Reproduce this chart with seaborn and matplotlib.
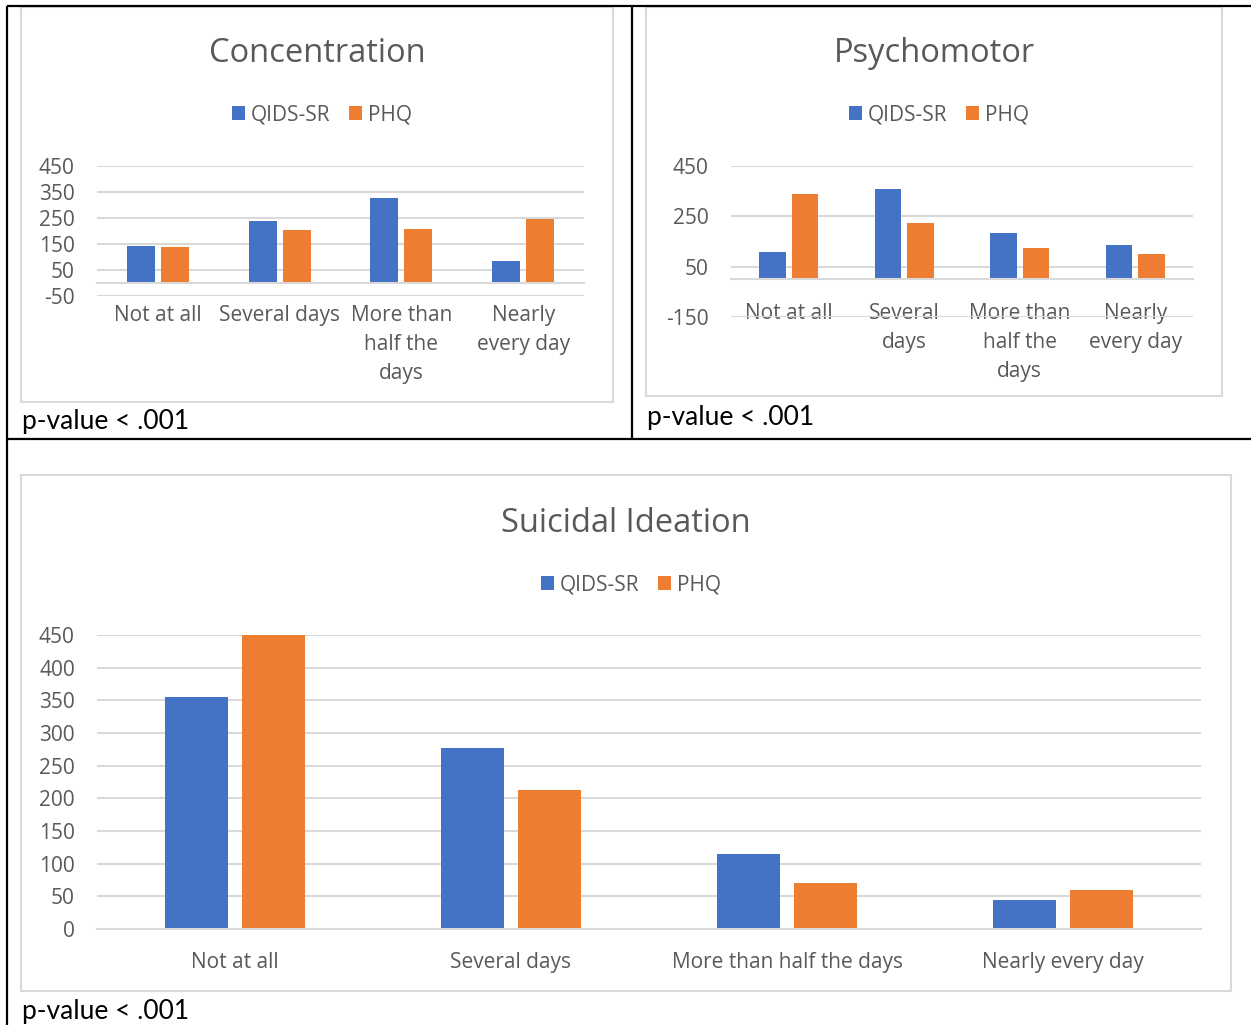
import numpy as np
import pandas as pd
import matplotlib
matplotlib.use("Agg")
import matplotlib.pyplot as plt
from matplotlib.patches import Rectangle, Patch
from matplotlib.lines import Line2D
import seaborn as sns

# ---- data ----
categories = ["Not at all", "Several days", "More than half the days", "Nearly every day"]
series = ["QIDS-SR", "PHQ"]

conc_qids = [141, 240, 328, 86]
conc_phq = [138, 204, 209, 245]
conc_labels = ["Not at all", "Several days", "More than\nhalf the\ndays", "Nearly\nevery day"]
conc_yticks = [-50, 50, 150, 250, 350, 450]

psy_qids = [107, 359, 185, 136]
psy_phq = [337, 224, 125, 101]
psy_labels = ["Not at all", "Several\ndays", "More than\nhalf the\ndays", "Nearly\nevery day"]
psy_yticks = [-150, 50, 250, 450]

si_qids = [355, 277, 115, 45]
si_phq = [450, 212, 70, 59]
si_labels = categories
si_yticks = [0, 50, 100, 150, 200, 250, 300, 350, 400, 450]

p_note = "p-value < .001"

# ---- style ----
sns.set_theme(style="white")
plt.rcParams["font.family"] = ["Open Sans", "DejaVu Sans"]
BLUE = "#4472C4"
ORANGE = "#ED7D31"
GRID = "#D9D9D9"
TXT = "#595959"

W, H = 1251, 1025
fig = plt.figure(figsize=(W / 100, H / 100), dpi=100)
fig.patch.set_facecolor("white")


def fx(x):
    return x / W


def fy(y):
    return 1 - y / H


def make_df(q, p):
    return pd.DataFrame({
        "category": categories * 2,
        "series": [series[0]] * 4 + [series[1]] * 4,
        "value": list(q) + list(p),
    })


def panel(rect_px, q, p, labels, yticks, ylim, xpad):
    l, t, r, b = rect_px
    ax = fig.add_axes([fx(l), fy(b), fx(r) - fx(l), fy(t) - fy(b)])
    sns.barplot(data=make_df(q, p), x="category", y="value", hue="series",
                order=categories, hue_order=series, palette=[BLUE, ORANGE],
                saturation=1, width=0.557, gap=0.175, legend=False, ax=ax,
                edgecolor="none")
    ax.set_xlim(-0.5, 3.5)
    ax.set_ylim(*ylim)
    ax.set_yticks(yticks)
    ax.set_yticklabels([str(v) for v in yticks])
    ax.set_xticks(range(4))
    ax.set_xticklabels(labels)
    ax.set_xticks(np.arange(-0.5, 4, 1), minor=True)
    ax.set_xlabel("")
    ax.set_ylabel("")
    for s in ("top", "left", "right"):
        ax.spines[s].set_visible(False)
    ax.spines["bottom"].set_position(("data", 0))
    ax.spines["bottom"].set_color(GRID)
    ax.spines["bottom"].set_linewidth(1.5)
    ax.yaxis.grid(True, color=GRID, linewidth=1.5)
    ax.set_axisbelow(True)
    ax.tick_params(axis="y", length=0, pad=16, labelsize=15, labelcolor=TXT)
    ax.tick_params(axis="x", which="major", length=0, pad=xpad, labelsize=15, labelcolor=TXT)
    ax.tick_params(axis="x", which="minor", length=6.5, width=1.5, color=GRID, direction="out")
    ax.patch.set_alpha(0)
    return ax


def chart_box(l, t, r, b):
    fig.add_artist(Rectangle((fx(l), fy(b)), fx(r) - fx(l), fy(t) - fy(b),
                             transform=fig.transFigure, facecolor="white",
                             edgecolor=GRID, linewidth=1.5, zorder=0))


def legend_at(cx, cy):
    handles = [Patch(facecolor=BLUE, edgecolor="none", label=series[0]),
               Patch(facecolor=ORANGE, edgecolor="none", label=series[1])]
    leg = fig.legend(handles=handles, loc="center", bbox_to_anchor=(fx(cx), fy(cy)),
                     ncol=2, frameon=False, fontsize=15, handlelength=0.62,
                     handleheight=0.62, handletextpad=0.3, columnspacing=0.9,
                     borderpad=0)
    for t in leg.get_texts():
        t.set_color(TXT)


# chart frames
chart_box(21, 7, 613, 402)
chart_box(646, 7, 1222, 396)
chart_box(21, 475, 1231, 991)

# panels
axes = [
    panel((97, 166, 584, 296), conc_qids, conc_phq, conc_labels, conc_yticks, (-50, 450), 16),
    panel((731, 166, 1193, 317), psy_qids, psy_phq, psy_labels, psy_yticks, (-150, 450), 17),
    panel((97, 635, 1201, 929), si_qids, si_phq, si_labels, si_yticks, (0, 450), 16.5),
]

# titles
fig.text(fx(317), fy(53), "Concentration", ha="center", va="center", fontsize=23.5, color=TXT)
fig.text(fx(934), fy(53), "Psychomotor", ha="center", va="center", fontsize=23.5, color=TXT)
fig.text(fx(626), fy(523), "Suicidal Ideation", ha="center", va="center", fontsize=23.5, color=TXT)

# legends
legend_at(322, 115)
legend_at(939, 115)
legend_at(631, 585)

# p-value notes
pfam = ["Lato", "DejaVu Sans"]
fig.text(fx(22), fy(422), p_note, ha="left", va="center", fontsize=19, color="black", family=pfam)
fig.text(fx(647), fy(418), p_note, ha="left", va="center", fontsize=19, color="black", family=pfam)
fig.text(fx(22), fy(1011), p_note, ha="left", va="center", fontsize=19, color="black", family=pfam)

# table rules
lw = 1.6
for (x0, y0, x1, y1) in [(7, 5.5, W, 5.5), (7, 5.5, 7, H), (632, 5.5, 632, 439), (7, 439, W, 439)]:
    fig.add_artist(Line2D([fx(x0), fx(x1)], [fy(y0), fy(y1)], transform=fig.transFigure,
                          color="black", linewidth=lw, solid_capstyle="butt"))

# wider line spacing for the wrapped category labels (ticks exist after a draw)
fig.canvas.draw()
for ax in axes:
    for tick in ax.xaxis.get_major_ticks():
        tick.label1.set_linespacing(1.5)

fig.savefig("out.png", dpi=100)
